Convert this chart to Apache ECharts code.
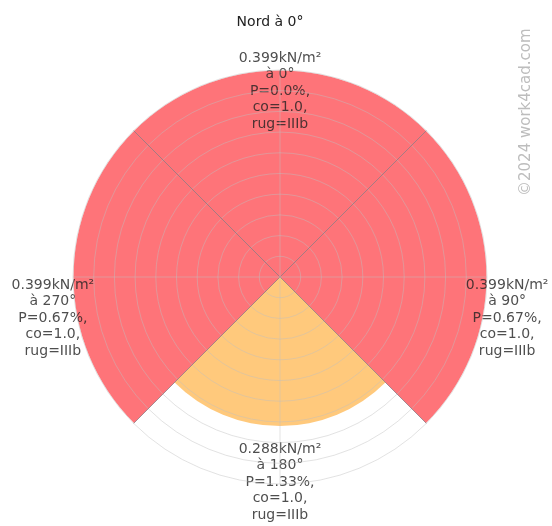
<!DOCTYPE html>
<html>
<head>
    <meta charset="utf-8">
    <script type="text/javascript" src="https://cdn.jsdelivr.net/npm/echarts@6/dist/echarts.min.js"></script>
</head>
<body style="margin: 0; background-color: #fff">
<div id="main" style="width: 552px; height: 526px;"></div>
<script type="text/javascript">
    // wind directions (compass degrees) and values
    var directions = [0, 90, 180, 270];
    var pressures  = [0.399, 0.399, 0.288, 0.399];
    var percents   = ['0.0', '0.67', '1.33', '0.67'];
    var coeffs     = ['1.0', '1.0', '1.0', '1.0'];
    var roughness  = ['IIIb', 'IIIb', 'IIIb', 'IIIb'];
    var radiusTicks = [0, 0.4, 0.04];   // min, max, interval

    var maxP = Math.max.apply(null, pressures);
    var center = [280, 277];
    var R = 207;
    var font = 'DejaVu Sans';
    var gridColor = 'rgba(190,190,190,0.45)';

    var barData = pressures.map(function(p) {
        return { value: p, itemStyle: { color: p === maxP ? '#fe7479' : '#ffc97c' } };
    });

    var labelData = directions.map(function(d, i) {
        return {
            value: [pressures[i], d],
            label: {
                formatter: pressures[i].toFixed(3) + 'kN/m²\nà ' + d + '°\nP=' + percents[i] +
                           '%,\nco=' + coeffs[i] + ',\nrug=' + roughness[i]
            }
        };
    });

    var hidden = { axisLine: { show: false }, axisTick: { show: false }, axisLabel: { show: false } };

    var myChart = echarts.init(document.getElementById('main'));
    var option = {
        animation: false,
        title: {
            text: 'Nord à 0°',
            left: 265, top: 10, textAlign: 'center',
            textStyle: { fontFamily: font, fontSize: 14, fontWeight: 'normal', color: '#222' }
        },
        graphic: [{
            type: 'text',
            x: 519, y: 196,
            rotation: Math.PI / 2,
            style: { text: '©2024 work4cad.com', fontFamily: font, fontSize: 15, fill: '#bdbdbd' }
        }],
        polar: [
            { center: center, radius: R },
            { center: center, radius: R },
            { center: center, radius: R * 1.1 }
        ],
        angleAxis: [
            Object.assign({
                polarIndex: 0, type: 'category', data: directions.map(String),
                startAngle: 135, clockwise: true, z: 3,
                splitLine: { show: true, lineStyle: { color: 'rgba(105,105,115,0.6)', width: 1 } }
            }, hidden),
            Object.assign({
                polarIndex: 1, type: 'value', min: 0, max: 360, interval: 90,
                startAngle: 90, clockwise: true, z: 3,
                splitLine: { show: true, lineStyle: { color: gridColor, width: 1 } }
            }, hidden),
            Object.assign({
                polarIndex: 2, type: 'value', min: 0, max: 360,
                startAngle: 90, clockwise: true, splitLine: { show: false }
            }, hidden)
        ],
        radiusAxis: [
            Object.assign({
                polarIndex: 0, type: 'value', min: radiusTicks[0], max: radiusTicks[1],
                interval: radiusTicks[2], z: 3,
                splitLine: { show: true, lineStyle: { color: gridColor, width: 1 } }
            }, hidden),
            Object.assign({
                polarIndex: 1, type: 'value', min: radiusTicks[0], max: radiusTicks[1],
                splitLine: { show: false }
            }, hidden),
            Object.assign({
                polarIndex: 2, type: 'value', min: radiusTicks[0], max: radiusTicks[1],
                splitLine: { show: false }
            }, hidden)
        ],
        series: [
            {
                type: 'bar',
                coordinateSystem: 'polar',
                polarIndex: 0,
                barCategoryGap: '0%',
                data: barData
            },
            {
                type: 'scatter',
                coordinateSystem: 'polar',
                polarIndex: 2,
                symbolSize: 0,
                clip: false,
                label: {
                    show: true,
                    position: 'bottom',
                    distance: 0,
                    align: 'center',
                    fontFamily: font,
                    fontSize: 14,
                    lineHeight: 16.5,
                    color: '#222'
                },
                data: labelData
            }
        ]
    };
    myChart.setOption(option);
</script>
</body>
</html>
